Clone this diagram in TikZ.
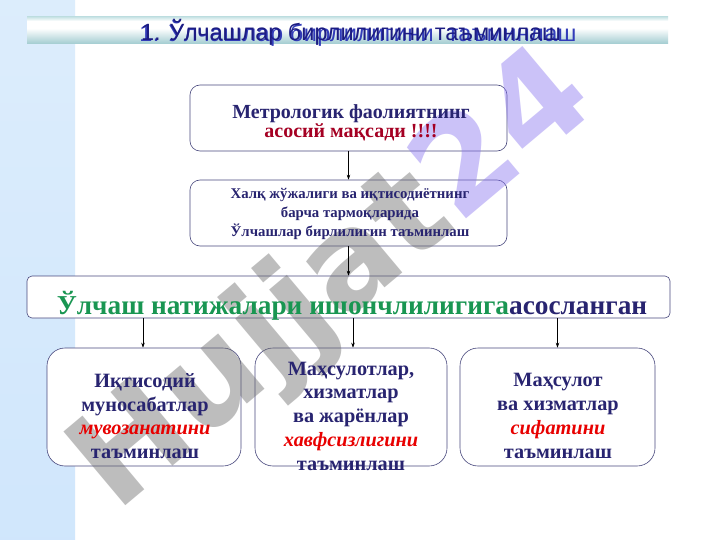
\documentclass[tikz,border=0pt]{standalone}
\usepackage{fontspec}
\setmainfont{Liberation Serif}
\newfontfamily\titlefont{Liberation Sans}
\newfontfamily\titlefontB[LetterSpace=1.5]{Liberation Sans}
\newfontfamily\wmfont{DejaVu Sans}
\usetikzlibrary{arrows.meta}
\definecolor{navy}{RGB}{40,36,112}
\definecolor{dred}{RGB}{165,0,35}
\definecolor{bred}{RGB}{232,0,0}
\definecolor{bgreen}{RGB}{25,150,82}
\definecolor{bordercol}{RGB}{72,72,125}
\definecolor{titlecol}{RGB}{28,28,130}
\definecolor{titlecolB}{RGB}{50,60,185}
\definecolor{stripbot}{RGB}{150,200,250}
\definecolor{stripmid}{RGB}{238,246,253}
\definecolor{striptop}{RGB}{178,214,247}
\definecolor{barA}{RGB}{185,220,222}
\definecolor{barB}{RGB}{166,206,210}
\definecolor{wmgray}{RGB}{110,110,110}
\definecolor{wmlav}{RGB}{140,120,240}
\pgfdeclareverticalshading{stripshade}{75bp}{color(0bp)=(stripbot); color(370bp)=(stripmid); color(540bp)=(striptop)}
\pgfdeclareverticalshading{barshade}{640bp}{color(0bp)=(barB); color(20bp)=(white); color(30bp)=(white); color(37bp)=(barA)}
\tikzset{
  box/.style={draw=bordercol, line width=0.6pt, fill=white, inner sep=0pt},
  conn/.style={-{Stealth[length=5pt,width=3.5pt]}, line width=0.6pt, black},
  txt/.style={align=center, text=navy, inner sep=0pt},
}
\begin{document}
\begin{tikzpicture}[x=1pt,y=-1pt]
\useasboundingbox (0,0) rectangle (720,540);
\fill[white] (0,0) rectangle (720,540);
\shade[shading=stripshade] (0,0) rectangle (75,540);
\shade[shading=barshade] (27,11) rectangle (668,48);
% boxes
\node[box, rounded corners=10pt, minimum width=317pt, minimum height=66pt] (b1) at (348.5,118) {};
\node[box, rounded corners=10pt, minimum width=317pt, minimum height=66pt] (b2) at (348.5,213) {};
\node[box, rounded corners=5pt, minimum width=643pt, minimum height=42pt] (band) at (348.5,297) {};
\node[box, rounded corners=18pt, minimum width=194pt, minimum height=118pt] (bA) at (144,407) {};
\node[box, rounded corners=18pt, minimum width=192pt, minimum height=118pt] (bB) at (351,407) {};
\node[box, rounded corners=18pt, minimum width=195pt, minimum height=118pt] (bC) at (557.5,407) {};
% watermark
\node[rotate=40, font=\wmfont\bfseries\fontsize{132}{135}\selectfont, inner sep=0pt, opacity=0.45] (wm) at (335,283) {\textcolor{wmgray}{Hujjat}\textcolor{wmlav}{24}};
% title
\node[text=titlecolB, font=\titlefontB\fontsize{23.5}{26}\selectfont, anchor=base] (ttlB) at (358,42) {1. Ўлчашлар бирлилигини\ \ таъминлаш};
\node[text=titlecol, font=\titlefont\fontsize{23.5}{26}\selectfont, anchor=base] (ttl) at (351,41) {1. Ўлчашлар бирлилигини таъминлаш};
% texts
\node[txt, font=\bfseries\fontsize{20}{19}\selectfont] (t1) at (351,123) {Метрологик фаолиятнинг\\\textcolor{dred}{асосий мақсади !!!!}};
\node[txt, font=\bfseries\fontsize{14.8}{19}\selectfont] (t2) at (350,214) {Халқ жўжалиги ва иқтисодиётнинг\\барча тармоқларида\\Ўлчашлар бирлилигин таъминлаш};
\node[txt, font=\bfseries\fontsize{27.3}{30}\selectfont, anchor=base] (tband) at (352,314) {\textcolor{bgreen}{Ўлчаш натижалари ишончлилигига}асосланган};
\node[txt, font=\bfseries\fontsize{20.3}{23.7}\selectfont] (tA) at (145,416) {Иқтисодий\\муносабатлар\\\textcolor{bred}{\itshape мувозанатини}\\таъминлаш};
\node[txt, font=\bfseries\fontsize{20.3}{23.75}\selectfont] (tB) at (351,416) {Маҳсулотлар,\\хизматлар\\ва жарёнлар\\\textcolor{bred}{\itshape хавфсизлигини}\\таъминлаш};
\node[txt, font=\bfseries\fontsize{20.3}{23.7}\selectfont] (tC) at (558,416) {Маҳсулот\\ва хизматлар\\\textcolor{bred}{\itshape сифатини}\\таъминлаш};
% connectors
\draw[conn] (b1.south) -- (b2.north);
\draw[conn] (b2.south) -- (band.north);
\draw[conn] (band.south -| bA.north) ++(-1,0) coordinate (cA) -- (cA |- bA.north);
\draw[conn] (band.south -| bB.north) ++(2,0) coordinate (cB) -- (cB |- bB.north);
\draw[conn] (band.south -| bC.north) coordinate (cC) -- (cC |- bC.north);
\end{tikzpicture}
\end{document}
